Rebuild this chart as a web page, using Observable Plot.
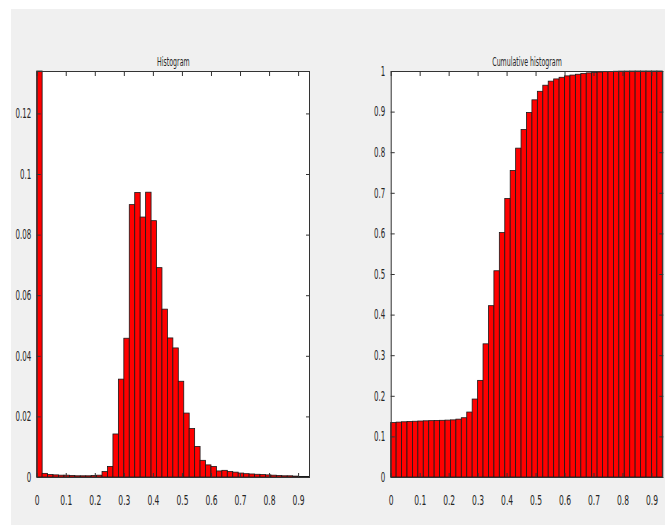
<!DOCTYPE html>
<html>
<head>
<meta charset="utf-8">
<script src="https://cdn.jsdelivr.net/npm/d3@7"></script>
<script src="https://cdn.jsdelivr.net/npm/@observablehq/plot@0.6"></script>
<style>
  html, body { margin: 0; padding: 0; background: #ffffff; }
  #page { position: relative; width: 669px; height: 525px; overflow: hidden; background: #ffffff; }
  #bg { position: absolute; left: 11px; top: 9px; width: 654px; height: 516px; background: #f0f0f0; }
  .panel { position: absolute; top: 0; }
</style>
</head>
<body>
<div id="page">
  <div id="bg"></div>
  <div id="left" class="panel" style="left:0px"></div>
  <div id="right" class="panel" style="left:334px"></div>
</div>
<script>
// Bin edges (lower edge of each bin, plus final upper edge)
const binEdges = [0, 0.01875, 0.0375, 0.05625, 0.075, 0.09375, 0.1125, 0.13125, 0.15, 0.16875,
  0.1875, 0.20625, 0.225, 0.24375, 0.2625, 0.28125, 0.3, 0.31875, 0.3375, 0.35625,
  0.375, 0.39375, 0.4125, 0.43125, 0.45, 0.46875, 0.4875, 0.50625, 0.525, 0.54375,
  0.5625, 0.58125, 0.6, 0.61875, 0.6375, 0.65625, 0.675, 0.69375, 0.7125, 0.73125,
  0.75, 0.76875, 0.7875, 0.80625, 0.825, 0.84375, 0.8625, 0.88125, 0.9, 0.91875, 0.9375];

// Normalised histogram (probability per bin)
const histValues = [0.134, 0.0012, 0.0008, 0.0007, 0.0006, 0.0006, 0.0005, 0.0004, 0.0004, 0.0004,
  0.0005, 0.0006, 0.0018, 0.0035, 0.0142, 0.0323, 0.0458, 0.0899, 0.0939, 0.0858,
  0.0940, 0.0846, 0.0691, 0.0554, 0.0459, 0.0426, 0.0316, 0.0211, 0.0160, 0.0101,
  0.0055, 0.0040, 0.0035, 0.0020, 0.0022, 0.0018, 0.0016, 0.0013, 0.0011, 0.0010,
  0.0009, 0.0008, 0.0007, 0.0006, 0.0005, 0.0004, 0.0004, 0.0003, 0.0002, 0.0002];

// Cumulative histogram
const cumValues = [0.134, 0.1352, 0.136, 0.1367, 0.1373, 0.1379, 0.1384, 0.1388, 0.1392, 0.1396,
  0.1401, 0.1407, 0.1425, 0.146, 0.160, 0.192, 0.238, 0.328, 0.422, 0.508,
  0.602, 0.686, 0.755, 0.810, 0.856, 0.898, 0.929, 0.950, 0.965, 0.975,
  0.9805, 0.9845, 0.988, 0.990, 0.992, 0.9938, 0.9954, 0.9966, 0.9976, 0.9984,
  0.999, 0.9994, 0.9997, 0.9998, 0.9999, 1.0, 1.0, 1.0, 1.0, 1.0];

const xTicks = [0, 0.1, 0.2, 0.3, 0.4, 0.5, 0.6, 0.7, 0.8, 0.9];
const histYTicks = [0, 0.02, 0.04, 0.06, 0.08, 0.1, 0.12];
const cumYTicks = [0, 0.1, 0.2, 0.3, 0.4, 0.5, 0.6, 0.7, 0.8, 0.9, 1];
const titles = ["Histogram", "Cumulative histogram"];

const FONT = '"DejaVu Sans Condensed", "Liberation Sans Narrow", "Arial Narrow", sans-serif';
const fmt = d => `${d}`;

function panel(values, yDomain, yTicks, title, width, marginLeft, marginRight) {
  const data = values.map((v, i) => ({x1: binEdges[i], x2: binEdges[i + 1], v}));
  return Plot.plot({
    width,
    height: 525,
    marginTop: 71,
    marginBottom: 48,
    marginLeft,
    marginRight,
    style: {background: "transparent", fontFamily: FONT, fontSize: "14px", color: "#262626"},
    x: {domain: [binEdges[0], binEdges[binEdges.length - 1]]},
    y: {domain: yDomain},
    marks: [
      Plot.frame({fill: "white", stroke: null}),
      Plot.rect(data, {x1: "x1", x2: "x2", y1: () => 0, y2: "v", fill: "#ff0000", stroke: "#1a1a1a", strokeWidth: 0.8}),
      Plot.axisX({anchor: "bottom", ticks: xTicks, tickSize: 0, tickPadding: 17, tickFormat: fmt, label: null, fill: "#262626", fontSize: 14.5}),
      Plot.axisX({anchor: "bottom", ticks: xTicks, tickSize: -4, tickFormat: () => "", label: null, stroke: "#333"}),
      Plot.axisX({anchor: "top", ticks: xTicks, tickSize: -4, tickFormat: () => "", label: null, stroke: "#333"}),
      Plot.axisY({anchor: "left", ticks: yTicks, tickSize: 0, tickPadding: 6, tickFormat: fmt, label: null, fill: "#262626", fontSize: 13.5}),
      Plot.axisY({anchor: "left", ticks: yTicks, tickSize: -4, tickFormat: () => "", label: null, stroke: "#333"}),
      Plot.axisY({anchor: "right", ticks: yTicks, tickSize: -4, tickFormat: () => "", label: null, stroke: "#333"}),
      Plot.frame({stroke: "#333", strokeWidth: 1}),
      Plot.text([title], {text: d => d, frameAnchor: "top", dy: -14, fill: "#262626", fontSize: 12})
    ]
  });
}

// MATLAB-like condensed lettering: squeeze glyphs horizontally
function condense(svg, k) {
  d3.select(svg).selectAll("text").each(function () {
    const len = this.getComputedTextLength();
    if (len > 0) {
      this.setAttribute("textLength", (len * k).toFixed(2));
      this.setAttribute("lengthAdjust", "spacingAndGlyphs");
    }
  });
}

const leftSvg = panel(histValues, [0, 0.134], histYTicks, titles[0], 334, 36.7, 25);
const rightSvg = panel(cumValues, [0, 1], cumYTicks, titles[1], 335, 56.7, 6.7);
document.getElementById("left").append(leftSvg);
document.getElementById("right").append(rightSvg);
condense(leftSvg, 0.58);
condense(rightSvg, 0.58);
</script>
</body>
</html>
